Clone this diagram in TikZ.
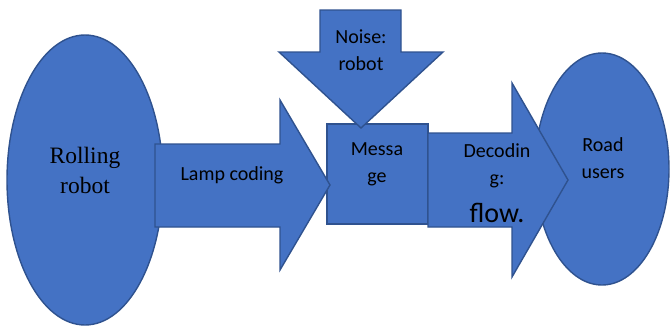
\documentclass[tikz,border=0pt]{standalone}
\usepackage{fontspec}
\setmainfont{Carlito}
\newfontfamily\timesfont{Liberation Serif}
\definecolor{shapefill}{HTML}{4472C4}
\definecolor{shapeline}{HTML}{2F528F}
\begin{document}
\begin{tikzpicture}[x=1pt,y=-1pt,
  blockshape/.style={fill=shapefill,draw=shapeline,line width=1.4pt,line join=miter},
  lbl/.style={inner sep=0pt,align=center,font=\fontsize{20}{27}\selectfont}]
\useasboundingbox (0,0) rectangle (670,325);

% source and receiver
\draw[blockshape] (85,180) ellipse [x radius=78,y radius=145];
\draw[blockshape] (602,169) ellipse [x radius=67,y radius=116];

% message box
\draw[blockshape] (327,124) rectangle (428,224);

% noise arrow pointing down onto the message
\draw[blockshape] (320,10) -- (401,10) -- (401,52) -- (443,52) -- (361,128)
  -- (279,52) -- (320,52) -- cycle;

% encoding arrow
\draw[blockshape] (155,144) -- (280,144) -- (280,100) -- (330,185)
  -- (280,270) -- (280,227) -- (155,227) -- cycle;

% decoding arrow
\draw[blockshape] (428,133) -- (512,133) -- (512,83) -- (568,180)
  -- (512,277) -- (512,227) -- (428,227) -- cycle;

% labels
\node[lbl,font=\timesfont\fontsize{23.5}{30}\selectfont] (src) at (85,170) {Rolling\\robot};
\node[lbl] (enc) at (232,175) {Lamp coding};
\node[lbl] (noise) at (361,50) {Noise:\\robot};
\node[lbl] (msg) at (377,164) {Messa\\ge};
\node[lbl] (dec1) at (497,166) {Decodin\\g:};
\begin{scope}
  \clip (430,190) rectangle (560,223);
  \node[inner sep=0pt,font=\fontsize{28}{30}\selectfont] (dec2) at (497,213) {flow.};
\end{scope}
\node[lbl] (dst) at (603,158) {Road\\users};
\end{tikzpicture}
\end{document}
